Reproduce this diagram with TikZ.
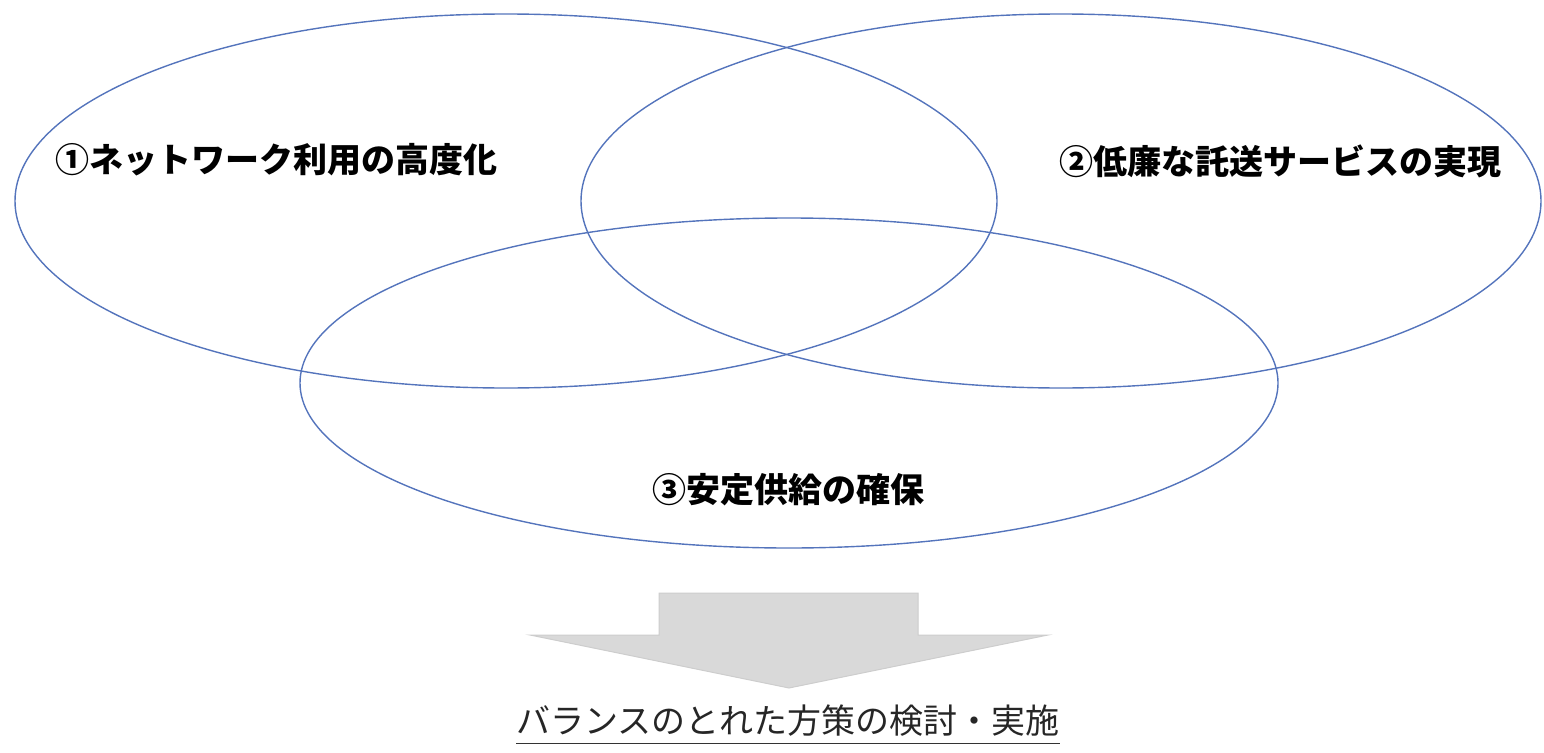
\documentclass[tikz,border=0pt]{standalone}
\usepackage{fontspec}
\newfontfamily\jp{Noto Sans CJK JP}
\usetikzlibrary{shapes.geometric}
\definecolor{ringblue}{RGB}{84,116,188}
\definecolor{arrowfill}{RGB}{217,217,217}
\definecolor{arrowedge}{RGB}{205,205,205}
\tikzset{
  ring/.style={ellipse, draw=ringblue, line width=1.4pt, inner sep=0pt},
  lbl/.style={font=\jp\bfseries\fontsize{34}{40}\selectfont, inner sep=0pt, text=black},
  result/.style={font=\jp\fontsize{34}{38}\selectfont, inner sep=0pt, text=black!85},
}
\begin{document}
\begin{tikzpicture}[x=1pt,y=-1pt]
\useasboundingbox (0,0) rectangle (1544,752);
\node[ring, minimum width=982pt, minimum height=374pt] (e1) at (506,201) {};
\node[ring, minimum width=960pt, minimum height=374pt] (e2) at (1061,201) {};
\node[ring, minimum width=978pt, minimum height=330pt] (e3) at (789,383) {};
\node[lbl] (l1) at (276,160) {①ネットワーク利用の高度化};
\node[lbl] (l2) at (1280,161) {②低廉な託送サービスの実現};
\node[lbl] (l3) at (788,490) {③安定供給の確保};
\draw[fill=arrowfill, draw=arrowedge, line width=1pt]
  (659,593) -- (918,593) -- (918,635) -- (1048,635) -- (789,688)
  -- (530,635) -- (659,635) -- cycle;
\node[result] (res) at (788,721) {バランスのとれた方策の検討・実施};
\coordinate (ul) at ([yshift=-6pt]res.south west);
\coordinate (ur) at ([yshift=-6pt]res.south east);
\draw[black!80, line width=1pt] (ul) -- (ur);
\end{tikzpicture}
\end{document}
